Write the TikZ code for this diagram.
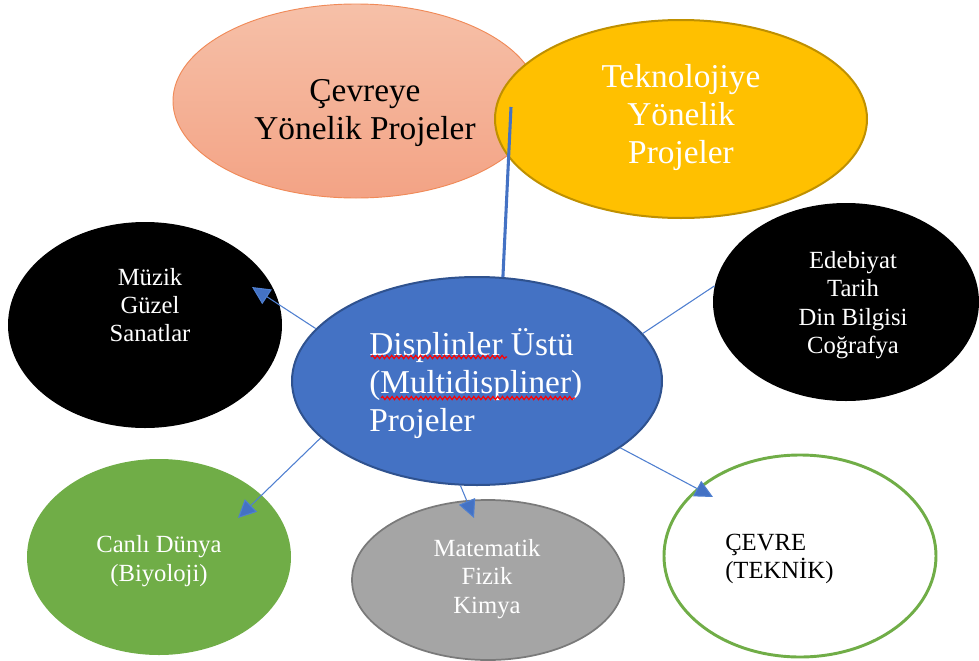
\documentclass[tikz,border=0pt]{standalone}
\usepackage{fontspec}
\setmainfont{Liberation Serif}
\usetikzlibrary{shapes.geometric,arrows.meta,decorations.pathmorphing}
\definecolor{cblue}{HTML}{4472C4}
\definecolor{cblueD}{HTML}{2F528F}
\definecolor{lineblue}{HTML}{4F7FD0}
\definecolor{cyel}{HTML}{FFC000}
\definecolor{cyelD}{HTML}{BF9000}
\definecolor{salA}{HTML}{F6C0A8}
\definecolor{salB}{HTML}{F3A385}
\definecolor{salD}{HTML}{F08A58}
\definecolor{cgreen}{HTML}{70AD47}
\definecolor{cgray}{HTML}{A5A5A5}
\definecolor{cgrayD}{HTML}{7A7A7A}
\begin{document}
\begin{tikzpicture}[x=0.75pt,y=-0.75pt,
  ell/.style={ellipse,inner sep=0pt},
  conn/.style={draw=lineblue,line width=0.8pt},
  arr/.style={conn,-{Triangle[length=13.5pt,width=13pt,fill=cblue]}},
  small/.style={font=\fontsize{18.5}{21.3}\selectfont,align=center,inner sep=0pt},
  big/.style={font=\fontsize{25}{28.5}\selectfont,align=center,inner sep=0pt},
  wavy/.style={draw=red,line width=0.9pt,decorate,decoration={snake,amplitude=1.2pt,segment length=3.6pt}}]
\useasboundingbox (0,0) rectangle (979,661);

% top ellipses
\node[ell,minimum width=274.5pt,minimum height=145.5pt,top color=salA,bottom color=salB,draw=salD,line width=0.7pt] (cev) at (356,101) {};
\node[big,text=black] (tcev) at (365,113) {Çevreye\\Yönelik Projeler};
\node[ell,minimum width=279pt,minimum height=148.5pt,fill=cyel,draw=cyelD,line width=1.5pt] (tek) at (681,119) {};
\node[big,text=white] (ttek) at (681,117) {Teknolojiye\\Yönelik\\Projeler};

% side ellipses
\node[ell,minimum width=205.5pt,minimum height=154.5pt,fill=black] (muz) at (145,325) {};
\node[small,text=white] (tmuz) at (150,305) {Müzik\\Güzel\\Sanatlar};
\node[ell,minimum width=199.5pt,minimum height=148.5pt,fill=black] (edb) at (846,302) {};
\node[small,text=white] (tedb) at (853,305) {Edebiyat\\Tarih\\Din Bilgisi\\Coğrafya};

% bottom ellipses
\node[ell,minimum width=198pt,minimum height=147pt,fill=cgreen] (can) at (159,557) {};
\node[small,text=white] (tcan) at (159,561) {Canlı Dünya\\(Biyoloji)};
\node[ell,minimum width=204pt,minimum height=120pt,fill=cgray,draw=cgrayD,line width=1.3pt] (mat) at (488,580) {};
\node[small,text=white] (tmat) at (487,579) {Matematik\\Fizik\\Kimya};
\node[ell,minimum width=204pt,minimum height=151.5pt,fill=white,draw=cgreen,line width=2.2pt] (cvr) at (800,556) {};
\node[small,text=black,align=left,anchor=west] (tcvr) at (725,559) {ÇEVRE\\(TEKNİK)};

% central ellipse
\node[ell,minimum width=277.5pt,minimum height=156pt,fill=cblue,draw=cblueD,line width=1.5pt] (cen) at (477,381) {};
\node[big,text=white,align=left,anchor=west] (tcen) at (369,384) {Displinler Üstü\\(Multidispliner)\\Projeler};
\draw[wavy] (371,357) -- (507,357);
\draw[wavy] (381,398) -- (575,398);

% connectors
\coordinate (ls) at (511,107);
\draw[cblue,line width=2.3pt] (ls) -- (cen.76.2);
\coordinate (tipm) at (252,287);
\coordinate (tipc) at (238,518);
\coordinate (tipt) at (474,518);
\coordinate (tipv) at (713,497);
\draw[arr] (cen.162.4) -- (tipm);
\draw[conn] (cen.16.9) -- (edb.173.5);
\draw[arr] (cen.200.8) -- (tipc);
\draw[arr] (cen.261.8) -- (tipt);
\draw[arr] (cen.335) -- (tipv);
\end{tikzpicture}
\end{document}
